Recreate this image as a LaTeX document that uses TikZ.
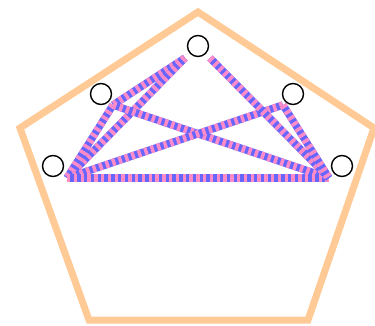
\documentclass[tikz,border=0pt]{standalone}
\definecolor{peach}{RGB}{255,202,150}
\definecolor{stripeblue}{RGB}{102,102,255}
\definecolor{stripepink}{RGB}{255,140,200}
\tikzset{
  frame/.style={draw=peach, line width=7pt},
  edge/.style={draw=stripeblue, line width=7.5pt,
    postaction={draw=stripepink, line width=7.5pt, dash pattern=on 3.4pt off 3.4pt}},
  spot/.style={circle, draw=black, line width=1.4pt, minimum size=21pt, inner sep=0pt, fill=none}
}
\begin{document}
\begin{tikzpicture}[x=1pt,y=-1pt]
\useasboundingbox (0,0) rectangle (375,326);
% pentagon
\coordinate (p1) at (198,12);
\coordinate (p2) at (374,128);
\coordinate (p3) at (308,320);
\coordinate (p4) at (89,320);
\coordinate (p5) at (20,128);
\draw[frame] (p1) -- (p2) -- (p3) -- (p4) -- (p5) -- cycle;
% edge end points
\coordinate (T1) at (185,58);
\coordinate (T2) at (210,58);
\coordinate (UL) at (113,105);
\coordinate (L) at (67,178);
\coordinate (UR) at (283,105);
\coordinate (R) at (329,178);
% edges
\draw[edge] (T1) -- (UL);
\draw[edge] (T1) -- (L);
\draw[edge] (UL) -- (L);
\draw[edge] (UL) -- (R);
\draw[edge] (L) -- (UR);
\draw[edge] (L) -- (R);
\draw[edge] (T2) -- (R);
\draw[edge] (UR) -- (R);
% circles
\node[spot] (c1) at (198,46) {};
\node[spot] (c2) at (101,94) {};
\node[spot] (c3) at (53,166) {};
\node[spot] (c4) at (293,94) {};
\node[spot] (c5) at (342,166) {};
\end{tikzpicture}
\end{document}
